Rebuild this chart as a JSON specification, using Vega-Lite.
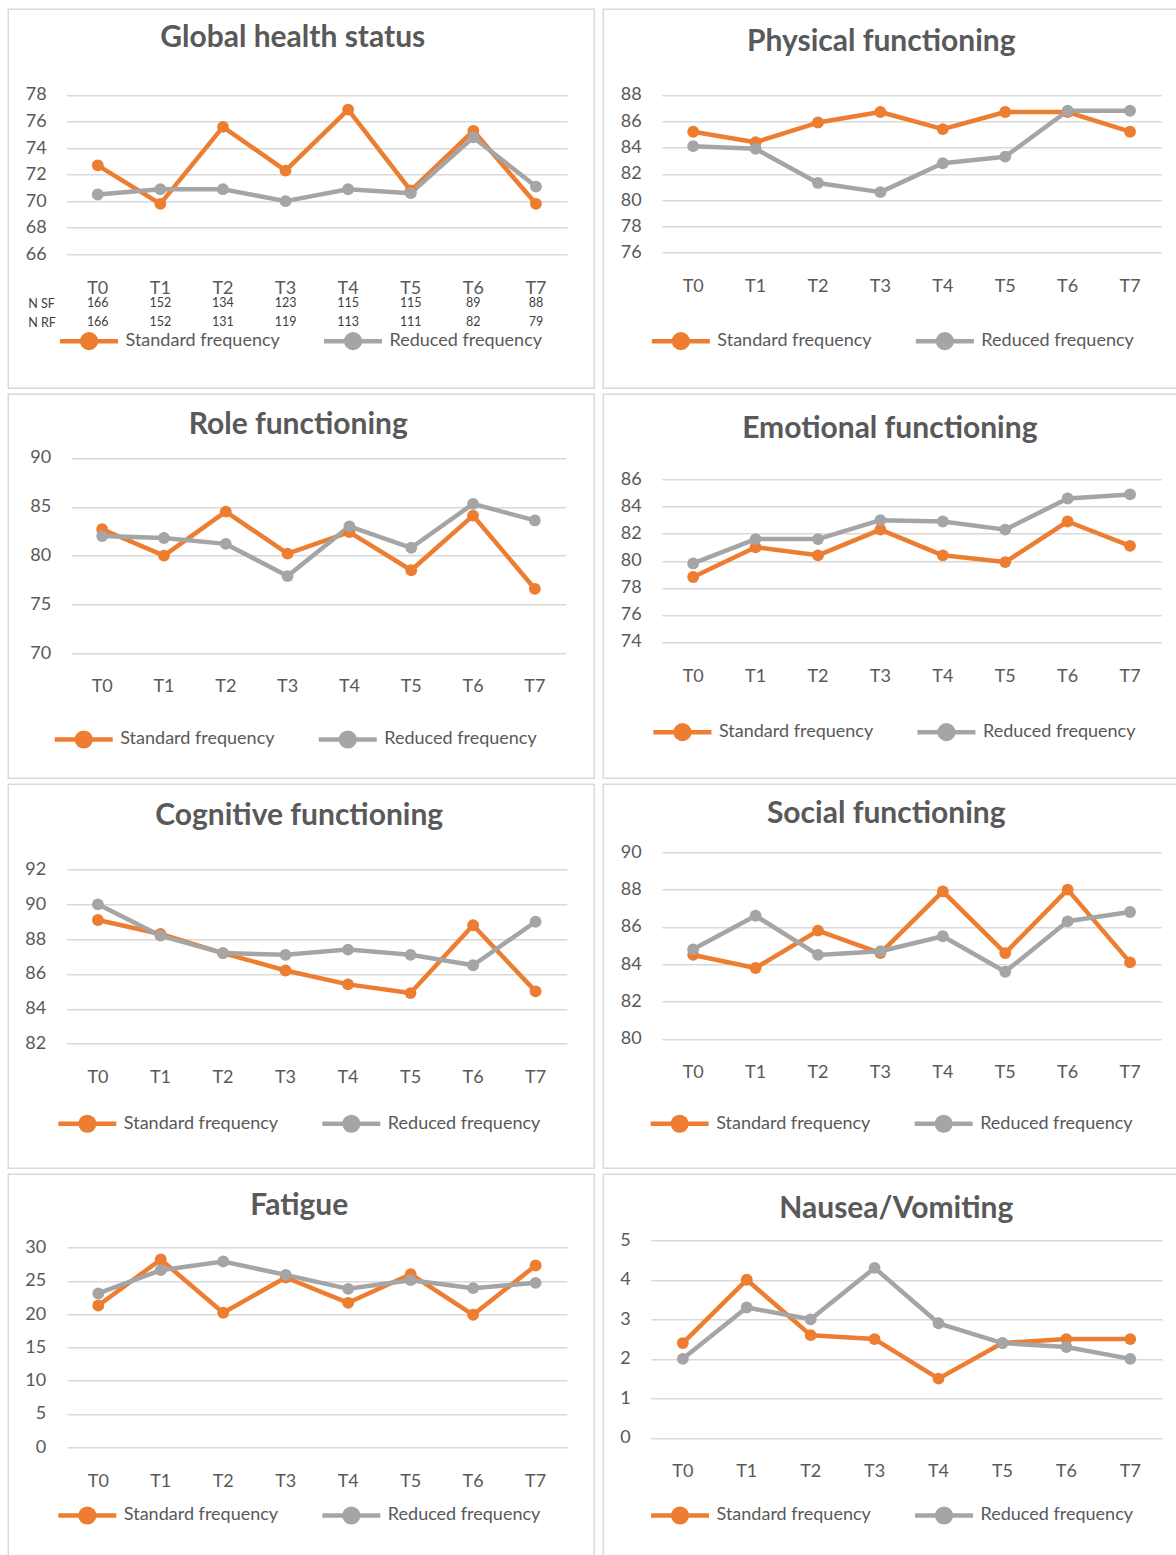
{
  "$schema": "https://vega.github.io/schema/vega-lite/v6.json",
  "padding": {"left": 7.25, "top": 8.25, "right": 0, "bottom": 0},
  "background": "white",
  "spacing": 4,
  "resolve": {"scale": {"color": "independent"}, "legend": {"color": "independent"}},
  "config": {
    "view": {"stroke": "#D9D9D9", "strokeWidth": 1.5},
    "axis": {"domain": false, "ticks": false, "labelFont": "Lato", "labelFontSize": 18, "labelColor": "#595959", "gridColor": "#D9D9D9", "gridWidth": 1.5, "labelPadding": 0},
    "axisX": {"grid": false, "labelAngle": 0, "labelBaseline": "middle"},
    "axisY": {"grid": true},
    "legend": {"labelFont": "Lato", "labelFontSize": 18, "labelColor": "#595959", "symbolSize": 3364, "symbolStrokeWidth": 5, "labelOffset": 5, "columnPadding": 41, "padding": 0, "labelLimit": 400},
    "title": {"font": "Lato", "fontWeight": "bold", "fontSize": 30, "color": "#595959", "baseline": "middle", "anchor": "middle", "frame": "group"},
    "line": {"strokeWidth": 4.5, "strokeJoin": "round", "strokeCap": "round"}
  },
  "datasets": {
    "scores": [
      {"p":"A","t":"T0","g":"Standard frequency","v":72.7},{"p":"A","t":"T1","g":"Standard frequency","v":69.8},{"p":"A","t":"T2","g":"Standard frequency","v":75.6},{"p":"A","t":"T3","g":"Standard frequency","v":72.3},{"p":"A","t":"T4","g":"Standard frequency","v":76.9},{"p":"A","t":"T5","g":"Standard frequency","v":70.8},{"p":"A","t":"T6","g":"Standard frequency","v":75.3},{"p":"A","t":"T7","g":"Standard frequency","v":69.8},
      {"p":"A","t":"T0","g":"Reduced frequency","v":70.5},{"p":"A","t":"T1","g":"Reduced frequency","v":70.9},{"p":"A","t":"T2","g":"Reduced frequency","v":70.9},{"p":"A","t":"T3","g":"Reduced frequency","v":70.0},{"p":"A","t":"T4","g":"Reduced frequency","v":70.9},{"p":"A","t":"T5","g":"Reduced frequency","v":70.6},{"p":"A","t":"T6","g":"Reduced frequency","v":74.8},{"p":"A","t":"T7","g":"Reduced frequency","v":71.1},
      {"p":"B","t":"T0","g":"Standard frequency","v":85.2},{"p":"B","t":"T1","g":"Standard frequency","v":84.4},{"p":"B","t":"T2","g":"Standard frequency","v":85.9},{"p":"B","t":"T3","g":"Standard frequency","v":86.7},{"p":"B","t":"T4","g":"Standard frequency","v":85.4},{"p":"B","t":"T5","g":"Standard frequency","v":86.7},{"p":"B","t":"T6","g":"Standard frequency","v":86.7},{"p":"B","t":"T7","g":"Standard frequency","v":85.2},
      {"p":"B","t":"T0","g":"Reduced frequency","v":84.1},{"p":"B","t":"T1","g":"Reduced frequency","v":83.9},{"p":"B","t":"T2","g":"Reduced frequency","v":81.3},{"p":"B","t":"T3","g":"Reduced frequency","v":80.6},{"p":"B","t":"T4","g":"Reduced frequency","v":82.8},{"p":"B","t":"T5","g":"Reduced frequency","v":83.3},{"p":"B","t":"T6","g":"Reduced frequency","v":86.8},{"p":"B","t":"T7","g":"Reduced frequency","v":86.8},
      {"p":"C","t":"T0","g":"Standard frequency","v":82.7},{"p":"C","t":"T1","g":"Standard frequency","v":80.0},{"p":"C","t":"T2","g":"Standard frequency","v":84.5},{"p":"C","t":"T3","g":"Standard frequency","v":80.2},{"p":"C","t":"T4","g":"Standard frequency","v":82.4},{"p":"C","t":"T5","g":"Standard frequency","v":78.5},{"p":"C","t":"T6","g":"Standard frequency","v":84.1},{"p":"C","t":"T7","g":"Standard frequency","v":76.6},
      {"p":"C","t":"T0","g":"Reduced frequency","v":82.0},{"p":"C","t":"T1","g":"Reduced frequency","v":81.8},{"p":"C","t":"T2","g":"Reduced frequency","v":81.2},{"p":"C","t":"T3","g":"Reduced frequency","v":77.9},{"p":"C","t":"T4","g":"Reduced frequency","v":83.0},{"p":"C","t":"T5","g":"Reduced frequency","v":80.8},{"p":"C","t":"T6","g":"Reduced frequency","v":85.3},{"p":"C","t":"T7","g":"Reduced frequency","v":83.6},
      {"p":"D","t":"T0","g":"Standard frequency","v":78.8},{"p":"D","t":"T1","g":"Standard frequency","v":81.0},{"p":"D","t":"T2","g":"Standard frequency","v":80.4},{"p":"D","t":"T3","g":"Standard frequency","v":82.3},{"p":"D","t":"T4","g":"Standard frequency","v":80.4},{"p":"D","t":"T5","g":"Standard frequency","v":79.9},{"p":"D","t":"T6","g":"Standard frequency","v":82.9},{"p":"D","t":"T7","g":"Standard frequency","v":81.1},
      {"p":"D","t":"T0","g":"Reduced frequency","v":79.8},{"p":"D","t":"T1","g":"Reduced frequency","v":81.6},{"p":"D","t":"T2","g":"Reduced frequency","v":81.6},{"p":"D","t":"T3","g":"Reduced frequency","v":83.0},{"p":"D","t":"T4","g":"Reduced frequency","v":82.9},{"p":"D","t":"T5","g":"Reduced frequency","v":82.3},{"p":"D","t":"T6","g":"Reduced frequency","v":84.6},{"p":"D","t":"T7","g":"Reduced frequency","v":84.9},
      {"p":"E","t":"T0","g":"Standard frequency","v":89.1},{"p":"E","t":"T1","g":"Standard frequency","v":88.3},{"p":"E","t":"T2","g":"Standard frequency","v":87.2},{"p":"E","t":"T3","g":"Standard frequency","v":86.2},{"p":"E","t":"T4","g":"Standard frequency","v":85.4},{"p":"E","t":"T5","g":"Standard frequency","v":84.9},{"p":"E","t":"T6","g":"Standard frequency","v":88.8},{"p":"E","t":"T7","g":"Standard frequency","v":85.0},
      {"p":"E","t":"T0","g":"Reduced frequency","v":90.0},{"p":"E","t":"T1","g":"Reduced frequency","v":88.2},{"p":"E","t":"T2","g":"Reduced frequency","v":87.2},{"p":"E","t":"T3","g":"Reduced frequency","v":87.1},{"p":"E","t":"T4","g":"Reduced frequency","v":87.4},{"p":"E","t":"T5","g":"Reduced frequency","v":87.1},{"p":"E","t":"T6","g":"Reduced frequency","v":86.5},{"p":"E","t":"T7","g":"Reduced frequency","v":89.0},
      {"p":"F","t":"T0","g":"Standard frequency","v":84.5},{"p":"F","t":"T1","g":"Standard frequency","v":83.8},{"p":"F","t":"T2","g":"Standard frequency","v":85.8},{"p":"F","t":"T3","g":"Standard frequency","v":84.6},{"p":"F","t":"T4","g":"Standard frequency","v":87.9},{"p":"F","t":"T5","g":"Standard frequency","v":84.6},{"p":"F","t":"T6","g":"Standard frequency","v":88.0},{"p":"F","t":"T7","g":"Standard frequency","v":84.1},
      {"p":"F","t":"T0","g":"Reduced frequency","v":84.8},{"p":"F","t":"T1","g":"Reduced frequency","v":86.6},{"p":"F","t":"T2","g":"Reduced frequency","v":84.5},{"p":"F","t":"T3","g":"Reduced frequency","v":84.7},{"p":"F","t":"T4","g":"Reduced frequency","v":85.5},{"p":"F","t":"T5","g":"Reduced frequency","v":83.6},{"p":"F","t":"T6","g":"Reduced frequency","v":86.3},{"p":"F","t":"T7","g":"Reduced frequency","v":86.8},
      {"p":"G","t":"T0","g":"Standard frequency","v":21.3},{"p":"G","t":"T1","g":"Standard frequency","v":28.2},{"p":"G","t":"T2","g":"Standard frequency","v":20.2},{"p":"G","t":"T3","g":"Standard frequency","v":25.5},{"p":"G","t":"T4","g":"Standard frequency","v":21.7},{"p":"G","t":"T5","g":"Standard frequency","v":26.0},{"p":"G","t":"T6","g":"Standard frequency","v":19.9},{"p":"G","t":"T7","g":"Standard frequency","v":27.3},
      {"p":"G","t":"T0","g":"Reduced frequency","v":23.1},{"p":"G","t":"T1","g":"Reduced frequency","v":26.6},{"p":"G","t":"T2","g":"Reduced frequency","v":27.9},{"p":"G","t":"T3","g":"Reduced frequency","v":25.9},{"p":"G","t":"T4","g":"Reduced frequency","v":23.8},{"p":"G","t":"T5","g":"Reduced frequency","v":25.1},{"p":"G","t":"T6","g":"Reduced frequency","v":23.9},{"p":"G","t":"T7","g":"Reduced frequency","v":24.7},
      {"p":"H","t":"T0","g":"Standard frequency","v":2.4},{"p":"H","t":"T1","g":"Standard frequency","v":4.0},{"p":"H","t":"T2","g":"Standard frequency","v":2.6},{"p":"H","t":"T3","g":"Standard frequency","v":2.5},{"p":"H","t":"T4","g":"Standard frequency","v":1.5},{"p":"H","t":"T5","g":"Standard frequency","v":2.4},{"p":"H","t":"T6","g":"Standard frequency","v":2.5},{"p":"H","t":"T7","g":"Standard frequency","v":2.5},
      {"p":"H","t":"T0","g":"Reduced frequency","v":2.0},{"p":"H","t":"T1","g":"Reduced frequency","v":3.3},{"p":"H","t":"T2","g":"Reduced frequency","v":3.0},{"p":"H","t":"T3","g":"Reduced frequency","v":4.3},{"p":"H","t":"T4","g":"Reduced frequency","v":2.9},{"p":"H","t":"T5","g":"Reduced frequency","v":2.4},{"p":"H","t":"T6","g":"Reduced frequency","v":2.3},{"p":"H","t":"T7","g":"Reduced frequency","v":2.0}
    ],
    "counts": [
      {"t":"T0","r":"N SF","n":166},{"t":"T1","r":"N SF","n":152},{"t":"T2","r":"N SF","n":134},{"t":"T3","r":"N SF","n":123},{"t":"T4","r":"N SF","n":115},{"t":"T5","r":"N SF","n":115},{"t":"T6","r":"N SF","n":89},{"t":"T7","r":"N SF","n":88},
      {"t":"T0","r":"N RF","n":166},{"t":"T1","r":"N RF","n":152},{"t":"T2","r":"N RF","n":131},{"t":"T3","r":"N RF","n":119},{"t":"T4","r":"N RF","n":113},{"t":"T5","r":"N RF","n":111},{"t":"T6","r":"N RF","n":82},{"t":"T7","r":"N RF","n":79}
    ]
  },
  "vconcat": [
    {
      "spacing": 7,
      "resolve": {"scale": {"color": "independent"}, "legend": {"color": "independent"}},
      "hconcat": [
        {
          "width": 586, "height": 379,
          "title": {"text": "Global health status", "offset": -44, "dx": -8.5},
          "resolve": {"scale": {"y": "independent"}},
          "layer": [
            {
              "data": {"name": "scores"},
              "transform": [{"filter": "datum.p === 'A'"}],
              "mark": {"type": "line", "point": {"filled": true, "size": 140}},
              "encoding": {
                "x": {"field": "t", "type": "nominal", "title": null, "scale": {"type": "band", "domain": ["T0","T1","T2","T3","T4","T5","T6","T7"], "range": [58.2, 559], "paddingInner": 0, "paddingOuter": 0}, "axis": {"offset": -100}},
                "y": {"field": "v", "type": "quantitative", "title": null, "scale": {"domain": [66, 78], "range": [245, 85.7], "nice": false, "zero": false}, "axis": {"values": [66, 68, 70, 72, 74, 76, 78], "offset": -38}},
                "color": {"field": "g", "type": "nominal", "title": null, "scale": {"domain": ["Standard frequency", "Reduced frequency"], "range": ["#ED7D31", "#A5A5A5"]}, "legend": {"orient": "none", "legendX": 49.3, "legendY": 300.2, "direction": "horizontal", "symbolType": "M-1,0H1M0.06,0A0.06,0.06,0,1,1,-0.06,0A0.06,0.06,0,1,1,0.06,0ZM0.15,0A0.15,0.15,0,1,1,-0.15,0A0.15,0.15,0,1,1,0.15,0ZM0.235,0A0.235,0.235,0,1,1,-0.235,0A0.235,0.235,0,1,1,0.235,0Z", "symbolStrokeWidth": 5, "symbolSize": 3364}}
              }
            },
            {
              "data": {"name": "counts"},
              "mark": {"type": "text", "font": "Lato", "fontSize": 12.5, "color": "#404040", "baseline": "middle"},
              "encoding": {
                "x": {"field": "t", "type": "nominal", "title": null},
                "y": {"field": "r", "type": "nominal", "title": null, "scale": {"type": "point", "domain": ["N SF", "N RF"], "range": [294, 313], "padding": 0}, "axis": {"orient": "left", "offset": -19.5, "labelAlign": "left", "labelFontSize": 12.5, "labelColor": "#404040", "grid": false}},
                "text": {"field": "n", "type": "nominal"}
              }
            }
          ]
        },
        {
          "width": 586, "height": 379,
          "title": {"text": "Physical functioning", "offset": -48, "dx": -15},
          "data": {"name": "scores"},
          "transform": [{"filter": "datum.p === 'B'"}],
          "mark": {"type": "line", "point": {"filled": true, "size": 140}},
          "encoding": {
            "x": {"field": "t", "type": "nominal", "title": null, "scale": {"type": "band", "domain": ["T0","T1","T2","T3","T4","T5","T6","T7"], "range": [58.7, 558], "paddingInner": 0, "paddingOuter": 0}, "axis": {"offset": -101.3}},
            "y": {"field": "v", "type": "quantitative", "title": null, "scale": {"domain": [76, 88], "range": [243.3, 85.7], "nice": false, "zero": false}, "axis": {"values": [76, 78, 80, 82, 84, 86, 88], "offset": -38}},
            "color": {"field": "g", "type": "nominal", "title": null, "scale": {"domain": ["Standard frequency", "Reduced frequency"], "range": ["#ED7D31", "#A5A5A5"]}, "legend": {"orient": "none", "legendX": 46.1, "legendY": 300.2, "direction": "horizontal", "symbolType": "M-1,0H1M0.06,0A0.06,0.06,0,1,1,-0.06,0A0.06,0.06,0,1,1,0.06,0ZM0.15,0A0.15,0.15,0,1,1,-0.15,0A0.15,0.15,0,1,1,0.15,0ZM0.235,0A0.235,0.235,0,1,1,-0.235,0A0.235,0.235,0,1,1,0.235,0Z", "symbolStrokeWidth": 5, "symbolSize": 3364}}
          }
        }
      ]
    },
    {
      "spacing": 7,
      "resolve": {"scale": {"color": "independent"}, "legend": {"color": "independent"}},
      "hconcat": [
        {
          "width": 586, "height": 384,
          "title": {"text": "Role functioning", "offset": -46, "dx": -3},
          "data": {"name": "scores"},
          "transform": [{"filter": "datum.p === 'C'"}],
          "mark": {"type": "line", "point": {"filled": true, "size": 140}},
          "encoding": {
            "x": {"field": "t", "type": "nominal", "title": null, "scale": {"type": "band", "domain": ["T0","T1","T2","T3","T4","T5","T6","T7"], "range": [63, 557.5], "paddingInner": 0, "paddingOuter": 0}, "axis": {"offset": -91.3}},
            "y": {"field": "v", "type": "quantitative", "title": null, "scale": {"domain": [70, 90], "range": [259, 63.7], "nice": false, "zero": false}, "axis": {"values": [70, 75, 80, 85, 90], "offset": -42.5}},
            "color": {"field": "g", "type": "nominal", "title": null, "scale": {"domain": ["Standard frequency", "Reduced frequency"], "range": ["#ED7D31", "#A5A5A5"]}, "legend": {"orient": "none", "legendX": 44, "legendY": 313.5, "direction": "horizontal", "symbolType": "M-1,0H1M0.06,0A0.06,0.06,0,1,1,-0.06,0A0.06,0.06,0,1,1,0.06,0ZM0.15,0A0.15,0.15,0,1,1,-0.15,0A0.15,0.15,0,1,1,0.15,0ZM0.235,0A0.235,0.235,0,1,1,-0.235,0A0.235,0.235,0,1,1,0.235,0Z", "symbolStrokeWidth": 5, "symbolSize": 3364}}
          }
        },
        {
          "width": 586, "height": 384,
          "title": {"text": "Emotional functioning", "offset": -49.7, "dx": -6.4},
          "data": {"name": "scores"},
          "transform": [{"filter": "datum.p === 'D'"}],
          "mark": {"type": "line", "point": {"filled": true, "size": 140}},
          "encoding": {
            "x": {"field": "t", "type": "nominal", "title": null, "scale": {"type": "band", "domain": ["T0","T1","T2","T3","T4","T5","T6","T7"], "range": [58.7, 558], "paddingInner": 0, "paddingOuter": 0}, "axis": {"offset": -102}},
            "y": {"field": "v", "type": "quantitative", "title": null, "scale": {"domain": [74, 86], "range": [247.7, 85.3], "nice": false, "zero": false}, "axis": {"values": [74, 76, 78, 80, 82, 84, 86], "offset": -38}},
            "color": {"field": "g", "type": "nominal", "title": null, "scale": {"domain": ["Standard frequency", "Reduced frequency"], "range": ["#ED7D31", "#A5A5A5"]}, "legend": {"orient": "none", "legendX": 47.7, "legendY": 306.2, "direction": "horizontal", "symbolType": "M-1,0H1M0.06,0A0.06,0.06,0,1,1,-0.06,0A0.06,0.06,0,1,1,0.06,0ZM0.15,0A0.15,0.15,0,1,1,-0.15,0A0.15,0.15,0,1,1,0.15,0ZM0.235,0A0.235,0.235,0,1,1,-0.235,0A0.235,0.235,0,1,1,0.235,0Z", "symbolStrokeWidth": 5, "symbolSize": 3364}}
          }
        }
      ]
    },
    {
      "spacing": 7,
      "resolve": {"scale": {"color": "independent"}, "legend": {"color": "independent"}},
      "hconcat": [
        {
          "width": 586, "height": 384,
          "title": {"text": "Cognitive functioning", "offset": -46.3, "dx": -2},
          "data": {"name": "scores"},
          "transform": [{"filter": "datum.p === 'E'"}],
          "mark": {"type": "line", "point": {"filled": true, "size": 140}},
          "encoding": {
            "x": {"field": "t", "type": "nominal", "title": null, "scale": {"type": "band", "domain": ["T0","T1","T2","T3","T4","T5","T6","T7"], "range": [58.4, 558.6], "paddingInner": 0, "paddingOuter": 0}, "axis": {"offset": -90.3}},
            "y": {"field": "v", "type": "quantitative", "title": null, "scale": {"domain": [82, 92], "range": [259.3, 85.3], "nice": false, "zero": false}, "axis": {"values": [82, 84, 86, 88, 90, 92], "offset": -37.5}},
            "color": {"field": "g", "type": "nominal", "title": null, "scale": {"domain": ["Standard frequency", "Reduced frequency"], "range": ["#ED7D31", "#A5A5A5"]}, "legend": {"orient": "none", "legendX": 47.6, "legendY": 307.8, "direction": "horizontal", "symbolType": "M-1,0H1M0.06,0A0.06,0.06,0,1,1,-0.06,0A0.06,0.06,0,1,1,0.06,0ZM0.15,0A0.15,0.15,0,1,1,-0.15,0A0.15,0.15,0,1,1,0.15,0ZM0.235,0A0.235,0.235,0,1,1,-0.235,0A0.235,0.235,0,1,1,0.235,0Z", "symbolStrokeWidth": 5, "symbolSize": 3364}}
          }
        },
        {
          "width": 586, "height": 384,
          "title": {"text": "Social functioning", "offset": -44.7, "dx": -10},
          "data": {"name": "scores"},
          "transform": [{"filter": "datum.p === 'F'"}],
          "mark": {"type": "line", "point": {"filled": true, "size": 140}},
          "encoding": {
            "x": {"field": "t", "type": "nominal", "title": null, "scale": {"type": "band", "domain": ["T0","T1","T2","T3","T4","T5","T6","T7"], "range": [58.7, 558], "paddingInner": 0, "paddingOuter": 0}, "axis": {"offset": -95.3}},
            "y": {"field": "v", "type": "quantitative", "title": null, "scale": {"domain": [80, 90], "range": [254.7, 68], "nice": false, "zero": false}, "axis": {"values": [80, 82, 84, 86, 88, 90], "offset": -38}},
            "color": {"field": "g", "type": "nominal", "title": null, "scale": {"domain": ["Standard frequency", "Reduced frequency"], "range": ["#ED7D31", "#A5A5A5"]}, "legend": {"orient": "none", "legendX": 44.9, "legendY": 307.8, "direction": "horizontal", "symbolType": "M-1,0H1M0.06,0A0.06,0.06,0,1,1,-0.06,0A0.06,0.06,0,1,1,0.06,0ZM0.15,0A0.15,0.15,0,1,1,-0.15,0A0.15,0.15,0,1,1,0.15,0ZM0.235,0A0.235,0.235,0,1,1,-0.235,0A0.235,0.235,0,1,1,0.235,0Z", "symbolStrokeWidth": 5, "symbolSize": 3364}}
          }
        }
      ]
    },
    {
      "spacing": 7,
      "resolve": {"scale": {"color": "independent"}, "legend": {"color": "independent"}},
      "hconcat": [
        {
          "width": 586, "height": 384,
          "title": {"text": "Fatigue", "offset": -46.3, "dx": -2},
          "data": {"name": "scores"},
          "transform": [{"filter": "datum.p === 'G'"}],
          "mark": {"type": "line", "point": {"filled": true, "size": 140}},
          "encoding": {
            "x": {"field": "t", "type": "nominal", "title": null, "scale": {"type": "band", "domain": ["T0","T1","T2","T3","T4","T5","T6","T7"], "range": [58.8, 558.6], "paddingInner": 0, "paddingOuter": 0}, "axis": {"offset": -76.3}},
            "y": {"field": "v", "type": "quantitative", "title": null, "scale": {"domain": [0, 30], "range": [273, 73.3], "nice": false, "zero": false}, "axis": {"values": [0, 5, 10, 15, 20, 25, 30], "offset": -37.5}},
            "color": {"field": "g", "type": "nominal", "title": null, "scale": {"domain": ["Standard frequency", "Reduced frequency"], "range": ["#ED7D31", "#A5A5A5"]}, "legend": {"orient": "none", "legendX": 47.6, "legendY": 309.5, "direction": "horizontal", "symbolType": "M-1,0H1M0.06,0A0.06,0.06,0,1,1,-0.06,0A0.06,0.06,0,1,1,0.06,0ZM0.15,0A0.15,0.15,0,1,1,-0.15,0A0.15,0.15,0,1,1,0.15,0ZM0.235,0A0.235,0.235,0,1,1,-0.235,0A0.235,0.235,0,1,1,0.235,0Z", "symbolStrokeWidth": 5, "symbolSize": 3364}}
          }
        },
        {
          "width": 586, "height": 384,
          "title": {"text": "Nausea/Vomiting", "offset": -49.7, "dx": 0},
          "data": {"name": "scores"},
          "transform": [{"filter": "datum.p === 'H'"}],
          "mark": {"type": "line", "point": {"filled": true, "size": 140}},
          "encoding": {
            "x": {"field": "t", "type": "nominal", "title": null, "scale": {"type": "band", "domain": ["T0","T1","T2","T3","T4","T5","T6","T7"], "range": [47.6, 559], "paddingInner": 0, "paddingOuter": 0}, "axis": {"offset": -86.3}},
            "y": {"field": "v", "type": "quantitative", "title": null, "scale": {"domain": [0, 5], "range": [263.7, 66], "nice": false, "zero": false}, "axis": {"values": [0, 1, 2, 3, 4, 5], "offset": -27}},
            "color": {"field": "g", "type": "nominal", "title": null, "scale": {"domain": ["Standard frequency", "Reduced frequency"], "range": ["#ED7D31", "#A5A5A5"]}, "legend": {"orient": "none", "legendX": 45.3, "legendY": 309.5, "direction": "horizontal", "symbolType": "M-1,0H1M0.06,0A0.06,0.06,0,1,1,-0.06,0A0.06,0.06,0,1,1,0.06,0ZM0.15,0A0.15,0.15,0,1,1,-0.15,0A0.15,0.15,0,1,1,0.15,0ZM0.235,0A0.235,0.235,0,1,1,-0.235,0A0.235,0.235,0,1,1,0.235,0Z", "symbolStrokeWidth": 5, "symbolSize": 3364}}
          }
        }
      ]
    }
  ]
}
